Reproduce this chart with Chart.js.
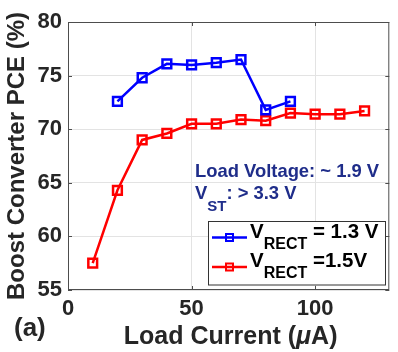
<!DOCTYPE html>
<html>
<head>
<meta charset="utf-8">
<script src="https://cdn.jsdelivr.net/npm/chart.js@4"></script>
<style>
  html, body { margin: 0; padding: 0; background: #fff; }
  canvas { display: block; }
</style>
</head>
<body>
<canvas id="pceChart" width="398" height="352"></canvas>
<script>
// data
const current13 = [20, 30, 40, 50, 60, 70, 80, 90];
const pce13 = [72.6, 74.8, 76.1, 76.0, 76.2, 76.5, 71.8, 72.6];
const current15 = [10, 20, 30, 40, 50, 60, 70, 80, 90, 100, 110, 120];
const pce15 = [57.5, 64.3, 69.0, 69.6, 70.5, 70.5, 70.9, 70.8, 71.5, 71.4, 71.4, 71.7];
const xTicks = [0, 50, 100];
const yTicks = [55, 60, 65, 70, 75, 80];
const legendMain = ['V', 'V'];
const legendSub = ['RECT', 'RECT'];
const legendTail = [' = 1.3 V', ' =1.5V'];

const FONT = '"Liberation Sans", Arial, Helvetica, sans-serif';
const TXT = '#262626';
const NAVY = '#1f2d8a';

function toPoints(xs, ys) {
  return xs.map((x, i) => ({ x, y: ys[i] }));
}

// writes "main + subscript + rest" pieces starting at x
function drawPieces(ctx, x, baseline, pieces) {
  pieces.forEach(p => {
    ctx.font = (p.style || '') + ' bold ' + p.size + 'px ' + FONT;
    ctx.fillText(p.text, x, baseline + (p.dy || 0));
    x += ctx.measureText(p.text).width;
  });
}

const boxPlugin = {
  id: 'boxPlugin',
  afterDraw(chart) {
    const { ctx, chartArea: a, scales } = chart;
    ctx.save();
    // axes box
    ctx.strokeStyle = '#4d4d4d';
    ctx.lineWidth = 1;
    ctx.strokeRect(a.left + 0.5, a.top + 0.5, a.right - a.left - 1, a.bottom - a.top - 1);
    // inward tick marks
    ctx.beginPath();
    yTicks.forEach(v => {
      const y = Math.round(scales.y.getPixelForValue(v)) + 0.5;
      ctx.moveTo(a.left, y); ctx.lineTo(a.left + 4, y);
      ctx.moveTo(a.right, y); ctx.lineTo(a.right - 4, y);
    });
    xTicks.forEach(v => {
      const x = Math.round(scales.x.getPixelForValue(v)) + 0.5;
      ctx.moveTo(x, a.bottom); ctx.lineTo(x, a.bottom - 4);
      ctx.moveTo(x, a.top); ctx.lineTo(x, a.top + 4);
    });
    ctx.stroke();

    // annotation text
    ctx.fillStyle = NAVY;
    ctx.textAlign = 'left';
    ctx.textBaseline = 'alphabetic';
    drawPieces(ctx, 195, 177, [{ text: 'Load Voltage: ~ 1.9 V', size: 18.4 }]);
    drawPieces(ctx, 195, 199, [
      { text: 'V', size: 18.4 },
      { text: 'ST', size: 15, dy: 12 },
      { text: ': > 3.3 V', size: 18.4 }
    ]);

    // legend
    const lx = 208.5, ly = 221.5, lw = 177, lh = 63.5;
    ctx.fillStyle = '#fff';
    ctx.fillRect(lx, ly, lw, lh);
    ctx.strokeStyle = '#333';
    ctx.strokeRect(lx, ly, lw, lh);
    const rows = [237.5, 267];
    chart.data.datasets.forEach((ds, i) => {
      const y = rows[i];
      ctx.strokeStyle = ds.borderColor;
      ctx.lineWidth = 2.5;
      ctx.beginPath();
      ctx.moveTo(212, y); ctx.lineTo(247, y);
      ctx.stroke();
      ctx.lineWidth = 2;
      ctx.strokeRect(229.5 - 3.5, y - 3.5, 7, 7);
      ctx.fillStyle = '#000';
      drawPieces(ctx, 250, y, [
        { text: legendMain[i], size: 20.5 },
        { text: legendSub[i], size: 16, dy: 11 },
        { text: legendTail[i], size: 20.5 }
      ]);
    });

    // x axis title, with an italic mu as in the figure
    ctx.fillStyle = TXT;
    const xt = [
      { text: 'Load Current (', size: 25 },
      { text: 'μ', size: 25, style: 'italic' },
      { text: 'A)', size: 25 }
    ];
    let w = 0;
    xt.forEach(p => {
      ctx.font = (p.style || '') + ' bold ' + p.size + 'px ' + FONT;
      w += ctx.measureText(p.text).width;
    });
    drawPieces(ctx, (a.left + a.right) / 2 + 2 - w / 2, 344, xt);

    // panel label
    ctx.font = 'bold 26px ' + FONT;
    ctx.textBaseline = 'middle';
    ctx.fillText('(a)', 14, 329);
    ctx.restore();
  }
};

const ctx = document.getElementById('pceChart').getContext('2d');
const chart = new Chart(ctx, {
  type: 'line',
  data: {
    datasets: [
      {
        label: 'V_RECT = 1.3 V',
        data: toPoints(current13, pce13),
        borderColor: '#0000ff',
        backgroundColor: 'rgba(0,0,0,0)',
        borderWidth: 2.5,
        pointStyle: 'rect',
        pointRadius: 6.2,
        pointBorderWidth: 2.5,
        pointBackgroundColor: 'rgba(0,0,0,0)',
        tension: 0
      },
      {
        label: 'V_RECT = 1.5 V',
        data: toPoints(current15, pce15),
        borderColor: '#ff0000',
        backgroundColor: 'rgba(0,0,0,0)',
        borderWidth: 2.5,
        pointStyle: 'rect',
        pointRadius: 6.2,
        pointBorderWidth: 2.5,
        pointBackgroundColor: 'rgba(0,0,0,0)',
        tension: 0
      }
    ]
  },
  options: {
    responsive: false,
    animation: false,
    devicePixelRatio: 1,
    layout: { padding: { top: 22, right: 4, left: 0, bottom: 0 } },
    plugins: {
      legend: { display: false },
      tooltip: { enabled: false }
    },
    scales: {
      x: {
        type: 'linear',
        min: 0,
        max: 130,
        afterFit: s => { s.height = 62; },
        afterBuildTicks: s => { s.ticks = xTicks.map(v => ({ value: v })); },
        grid: { color: '#e3e3e3', drawTicks: false },
        border: { display: false },
        ticks: {
          padding: 6,
          color: TXT,
          font: { family: FONT, size: 22, weight: 'bold' }
        }
      },
      y: {
        min: 55,
        max: 80,
        afterFit: s => { s.width = 68; },
        afterBuildTicks: s => { s.ticks = yTicks.map(v => ({ value: v })); },
        grid: { color: '#e3e3e3', drawTicks: false },
        border: { display: false },
        ticks: {
          padding: 6,
          color: TXT,
          font: { family: FONT, size: 22, weight: 'bold' }
        },
        title: {
          display: true,
          text: 'Boost Converter PCE (%)',
          color: TXT,
          padding: { top: 3, bottom: 0 },
          font: { family: FONT, size: 24, weight: 'bold' }
        }
      }
    }
  },
  plugins: [boxPlugin]
});
</script>
</body>
</html>
